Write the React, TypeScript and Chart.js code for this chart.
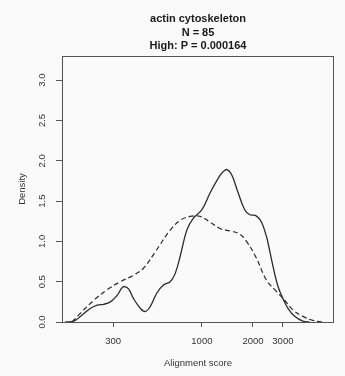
import React, { useEffect, useRef } from "react";
import { Chart, registerables } from "chart.js";

Chart.register(...registerables);

const titleLines = ["actin cytoskeleton", "N = 85", "High: P = 0.000164"];
const xAxisTitle = "Alignment score";
const yAxisTitle = "Density";

const xTicks = [300, 1000, 2000, 3000];
const yTicks = [0, 0.5, 1.0, 1.5, 2.0, 2.5, 3.0];
const xMin = 150;
const xMax = 6000;
const yMin = 0;
const yMax = 3.3;

// Solid curve (category of interest)
const solidX = [157, 176, 193, 221, 242, 264, 289, 317, 337, 350, 370, 396, 434, 464, 496, 543, 594, 651, 696, 744, 815, 891, 998, 1117, 1278, 1360, 1410, 1496, 1637, 1791, 1916, 2078, 2243, 2401, 2453, 2624, 2808, 3004, 3214, 3518, 3936, 4308];
const solidY = [0.0, 0.01, 0.07, 0.17, 0.21, 0.22, 0.25, 0.33, 0.42, 0.44, 0.41, 0.29, 0.17, 0.13, 0.19, 0.36, 0.46, 0.5, 0.6, 0.81, 1.14, 1.29, 1.39, 1.6, 1.82, 1.88, 1.89, 1.83, 1.6, 1.39, 1.33, 1.32, 1.24, 1.06, 0.98, 0.69, 0.44, 0.29, 0.17, 0.07, 0.01, 0.0];

// Dashed curve (background)
const dashX = [172, 193, 231, 277, 331, 396, 454, 531, 651, 744, 852, 975, 1117, 1278, 1462, 1674, 1832, 2075, 2401, 2748, 3074, 3439, 3936, 4502, 5156];
const dashY = [0.0, 0.11, 0.27, 0.4, 0.5, 0.58, 0.67, 0.87, 1.14, 1.26, 1.31, 1.31, 1.24, 1.16, 1.13, 1.09, 1.0, 0.81, 0.52, 0.38, 0.27, 0.15, 0.07, 0.02, 0.0];

const FONT = "'Liberation Sans', Arial, Helvetica, sans-serif";
const BG = "#fafafa";
const INK = "#333333";

const framePlugin = {
  id: "frameAndTitle",
  beforeDraw(chart: any) {
    const { ctx, width, height } = chart;
    ctx.save();
    ctx.fillStyle = BG;
    ctx.fillRect(0, 0, width, height);
    ctx.restore();
  },
  afterDraw(chart: any) {
    const { ctx, chartArea } = chart;
    ctx.save();
    ctx.strokeStyle = "#555555";
    ctx.lineWidth = 1;
    ctx.strokeRect(
      Math.round(chartArea.left) + 0.5,
      Math.round(chartArea.top) + 0.5,
      Math.round(chartArea.right - chartArea.left) - 1,
      Math.round(chartArea.bottom - chartArea.top)
    );
    ctx.fillStyle = "#1a1a1a";
    ctx.font = `bold 11px ${FONT}`;
    ctx.textAlign = "center";
    ctx.textBaseline = "middle";
    const cx = (chartArea.left + chartArea.right) / 2;
    titleLines.forEach((t, i) => {
      ctx.fillText(t, cx, 19 + i * 13.5);
    });
    ctx.restore();
  },
};

export default function App() {
  const ref = useRef<HTMLCanvasElement | null>(null);

  useEffect(() => {
    document.body.style.margin = "0";
    document.body.style.background = BG;
    if (!ref.current) return;
    const chart = new Chart(ref.current, {
      type: "line",
      data: {
        datasets: [
          {
            label: "solid",
            data: solidX.map((x, i) => ({ x, y: solidY[i] })),
            borderColor: "#2b2b2b",
            borderWidth: 1.3,
            pointRadius: 0,
            fill: false,
            tension: 0.4,
          },
          {
            label: "dashed",
            data: dashX.map((x, i) => ({ x, y: dashY[i] })),
            borderColor: "#2b2b2b",
            borderWidth: 1.2,
            borderDash: [5, 3],
            pointRadius: 0,
            fill: false,
            tension: 0.4,
          },
        ],
      },
      options: {
        animation: false,
        responsive: false,
        devicePixelRatio: 1,
        layout: { padding: { left: 0, right: 11, top: 56, bottom: 0 } },
        plugins: {
          legend: { display: false },
          tooltip: { enabled: false },
          title: { display: false },
        },
        scales: {
          x: {
            type: "logarithmic",
            min: xMin,
            max: xMax,
            afterBuildTicks: (scale: any) => {
              scale.ticks = xTicks.map((v) => ({ value: v }));
            },
            afterFit: (scale: any) => {
              scale.height = 54;
            },
            border: { display: false },
            grid: {
              display: true,
              drawOnChartArea: false,
              drawTicks: true,
              tickLength: 5,
              color: "#555555",
            },
            ticks: {
              autoSkip: false,
              maxRotation: 0,
              minRotation: 0,
              padding: 9,
              color: INK,
              font: { size: 9.5, family: FONT },
              callback: (v: any) => String(v),
            },
            title: {
              display: true,
              text: xAxisTitle,
              color: INK,
              font: { size: 9.5, family: FONT },
              padding: { top: 0, bottom: 7 },
            },
          },
          y: {
            type: "linear",
            min: yMin,
            max: yMax,
            afterBuildTicks: (scale: any) => {
              scale.ticks = yTicks.map((v) => ({ value: v }));
            },
            afterFit: (scale: any) => {
              scale.width = 62;
            },
            border: { display: false },
            grid: {
              display: true,
              drawOnChartArea: false,
              drawTicks: true,
              tickLength: 6,
              color: "#555555",
            },
            ticks: {
              minRotation: 90,
              maxRotation: 90,
              crossAlign: "center",
              padding: 7,
              color: INK,
              font: { size: 9.5, family: FONT },
              callback: (v: any) => Number(v).toFixed(1),
            },
            title: {
              display: true,
              text: yAxisTitle,
              color: INK,
              font: { size: 9.5, family: FONT },
              padding: { top: 17, bottom: 0 },
            },
          },
        },
      },
      plugins: [framePlugin],
    } as any);
    return () => chart.destroy();
  }, []);

  return (
    <div style={{ width: 345, height: 376 }}>
      <canvas ref={ref} width={345} height={376} style={{ display: "block" }} />
    </div>
  );
}
